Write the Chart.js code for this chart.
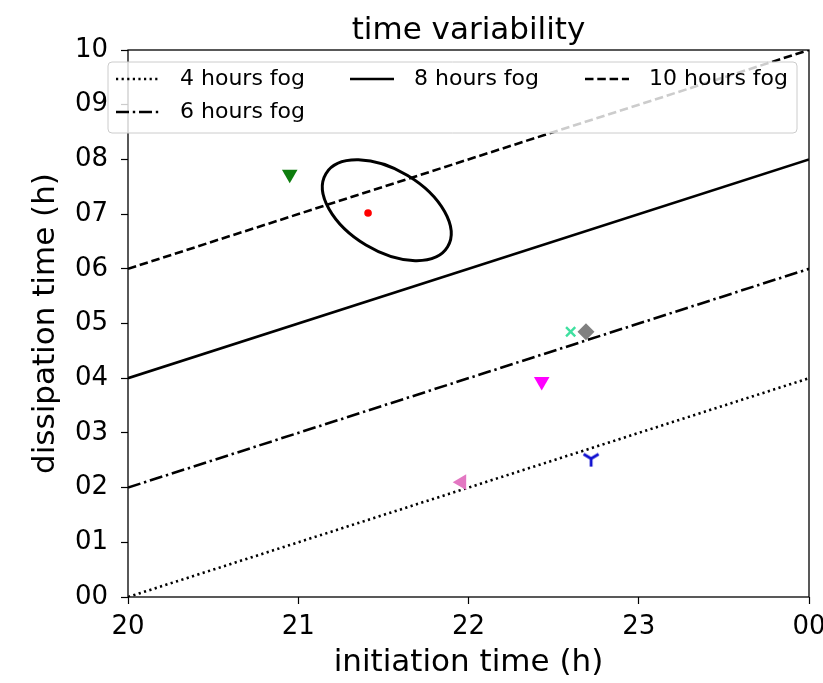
<!DOCTYPE html>
<html>
<head>
<meta charset="utf-8">
<script src="https://cdn.jsdelivr.net/npm/chart.js@4.4.1/dist/chart.umd.min.js"></script>
<style>
    html, body { margin: 0; padding: 0; background: #fff; overflow: hidden; }
    #contenedor { position: relative; width: 845px; height: 683px; }
</style>
</head>
<body>
<div id="contenedor"><canvas id="grafico-niebla" width="845" height="683"></canvas></div>
<script>
// Datos
const xTickLabels = ['20', '21', '22', '23', '00'];
const yTickLabels = ['00', '01', '02', '03', '04', '05', '06', '07', '08', '09', '10'];
const tituloTexto = 'time variability';

// Lineas de duracion de niebla (orden de la leyenda)
const fogNames = ['4 hours fog', '8 hours fog', '10 hours fog', '6 hours fog'];
const fogStartX = [20, 20, 20, 20];
const fogEndX = [24, 24, 24, 24];
const fogStartY = [0, 4, 6, 2];
const fogEndY = [4, 8, 10, 6];

// Marcadores (inicio, disipacion)
const markerX = [20.95, 21.41, 22.60, 22.69, 22.43, 22.72, 21.96];
const markerY = [7.73, 7.02, 4.85, 4.85, 3.94, 2.53, 2.10];

// Centro de la elipse
const ellipseCenterX = [21.52];
const ellipseCenterY = [7.07];

const FUENTE = "'DejaVu Sans', sans-serif";

// Estilos de linea (matplotlib ':', '-', '--', '-.')
const estilosLinea = [
    { dash: [2.2, 3.4] },
    { dash: [] },
    { dash: [8.5, 3.8] },
    { dash: [13, 3.8, 2.4, 3.8] }
];

function crearTriAbajo(color) {
    const c = document.createElement('canvas');
    c.width = 18; c.height = 18;
    const g = c.getContext('2d');
    g.strokeStyle = color;
    g.lineWidth = 2.8;
    g.beginPath();
    g.moveTo(9, 9); g.lineTo(9, 17);
    g.moveTo(9, 9); g.lineTo(1.5, 4.5);
    g.moveTo(9, 9); g.lineTo(16.5, 4.5);
    g.stroke();
    return c;
}

const estilosMarcadores = [
    { color: '#0e7d0e', style: 'triangle', rot: 180, r: 9 },
    { color: '#ff0000', style: 'circle', rot: 0, r: 3.8 },
    { color: '#3fe0a0', style: 'crossRot', rot: 0, r: 6.5 },
    { color: '#808080', style: 'rectRot', rot: 0, r: 8.5 },
    { color: '#ff00ff', style: 'triangle', rot: 180, r: 9 },
    { color: '#1010d0', style: crearTriAbajo('#1010d0'), rot: 0, r: 9 },
    { color: '#e377c2', style: 'triangle', rot: 270, r: 9 }
];

const datasets = [];
fogNames.forEach((nombre, i) => {
    datasets.push({
        label: nombre,
        data: [{ x: fogStartX[i], y: fogStartY[i] }, { x: fogEndX[i], y: fogEndY[i] }],
        showLine: true,
        borderColor: '#000',
        borderWidth: 2.6,
        borderDash: estilosLinea[i].dash,
        pointRadius: 0,
        order: 1
    });
});
markerX.forEach((x, i) => {
    const e = estilosMarcadores[i];
    datasets.push({
        label: 'marker ' + i,
        data: [{ x: x, y: markerY[i] }],
        pointStyle: e.style,
        rotation: e.rot,
        pointRadius: e.r,
        backgroundColor: e.color,
        borderColor: e.color,
        borderWidth: e.style === 'crossRot' ? 2.4 : 0,
        showLine: false,
        order: 0
    });
});

// Titulo, marco, elipse y leyenda
const pluginExtras = {
    id: 'extras',
    afterDatasetsDraw(chart) {
        const { ctx, chartArea: a, scales } = chart;
        ctx.save();
        // elipse
        const cx = scales.x.getPixelForValue(ellipseCenterX[0]);
        const cy = scales.y.getPixelForValue(ellipseCenterY[0]);
        ctx.beginPath();
        ctx.ellipse(cx, cy, 71, 40.5, 31 * Math.PI / 180, 0, Math.PI * 2);
        ctx.strokeStyle = '#000';
        ctx.lineWidth = 3;
        ctx.stroke();
        // marco
        ctx.lineWidth = 1.3;
        ctx.strokeRect(a.left, a.top, a.right - a.left, a.bottom - a.top);
        // titulo centrado sobre el area del grafico
        ctx.font = '31px ' + FUENTE;
        ctx.fillStyle = '#000';
        ctx.textAlign = 'center';
        ctx.textBaseline = 'middle';
        ctx.fillText(tituloTexto, (a.left + a.right) / 2, 31);
        ctx.restore();
    },
    afterDraw(chart) {
        const { ctx } = chart;
        ctx.save();
        const bx = 108, by = 62, bw = 689, bh = 71, rad = 4;
        ctx.beginPath();
        ctx.roundRect(bx, by, bw, bh, rad);
        ctx.fillStyle = 'rgba(255,255,255,0.8)';
        ctx.fill();
        ctx.strokeStyle = '#cccccc';
        ctx.lineWidth = 1;
        ctx.stroke();

        ctx.font = '22px ' + FUENTE;
        ctx.textBaseline = 'middle';
        ctx.fillStyle = '#000';
        const filas = [79, 112];
        const colHandle = [116, 350, 585];
        const largo = 44;
        // orden por columnas como en matplotlib (ncol=3)
        const pos = [[0, 0], [1, 0], [2, 0], [0, 1]];
        fogNames.forEach((nombre, i) => {
            const [c, f] = pos[i];
            const x0 = colHandle[c], y0 = filas[f];
            ctx.beginPath();
            ctx.setLineDash(estilosLinea[i].dash);
            ctx.strokeStyle = '#000';
            ctx.lineWidth = 2.6;
            ctx.moveTo(x0, y0);
            ctx.lineTo(x0 + largo, y0);
            ctx.stroke();
            ctx.setLineDash([]);
            ctx.fillText(nombre, x0 + largo + 20, y0);
        });
        ctx.restore();
    }
};

new Chart(document.getElementById('grafico-niebla').getContext('2d'), {
    type: 'scatter',
    data: { datasets: datasets },
    options: {
        responsive: false,
        animation: false,
        layout: { padding: { left: 0, right: 36, top: 50, bottom: 0 } },
        plugins: {
            legend: { display: false },
            tooltip: { enabled: false },
            title: { display: false }
        },
        scales: {
            x: {
                type: 'linear',
                min: 20,
                max: 24,
                afterFit(scale) { scale.height = 86; },
                ticks: {
                    stepSize: 1,
                    color: '#000',
                    padding: 8,
                    font: { family: FUENTE, size: 26 },
                    callback: (v) => xTickLabels[v - 20]
                },
                grid: { drawOnChartArea: false, tickLength: 7, color: '#000', tickWidth: 1.2 },
                border: { display: false },
                title: {
                    display: true,
                    text: 'initiation time (h)',
                    color: '#000',
                    font: { family: FUENTE, size: 31 },
                    padding: { top: 0, bottom: 1 }
                }
            },
            y: {
                type: 'linear',
                min: 0,
                max: 10,
                afterFit(scale) { scale.width = 128; },
                ticks: {
                    stepSize: 1,
                    color: '#000',
                    padding: 13,
                    font: { family: FUENTE, size: 26 },
                    callback: (v) => yTickLabels[v]
                },
                grid: { drawOnChartArea: false, tickLength: 7, color: '#000', tickWidth: 1.2 },
                border: { display: false },
                title: {
                    display: true,
                    text: 'dissipation time (h)',
                    color: '#000',
                    font: { family: FUENTE, size: 31 },
                    padding: { top: 27, bottom: 0 }
                }
            }
        }
    },
    plugins: [pluginExtras]
});
</script>
</body>
</html>
